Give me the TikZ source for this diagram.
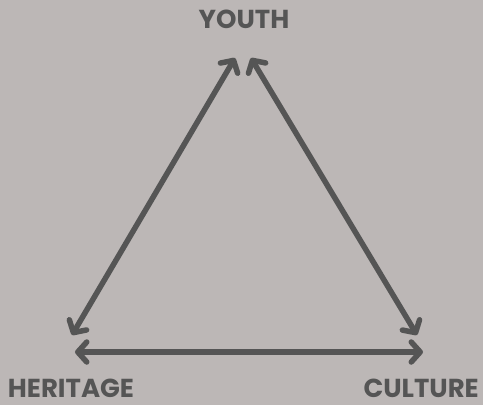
\documentclass[tikz,border=0pt]{standalone}
\usepackage{fontspec}
\setmainfont{Poppins}
\usetikzlibrary{arrows.meta}
\definecolor{bg}{HTML}{BCB7B6}
\definecolor{ink}{HTML}{555555}
\begin{document}
\begin{tikzpicture}[x=1pt,y=-1pt,
  lbl/.style={font=\bfseries\fontsize{26}{26}\selectfont, text=ink, inner sep=0pt},
  link/.style={draw=ink, line width=5.5pt, line cap=round,
    {Straight Barb[length=9pt,width=20pt,round]}-{Straight Barb[length=9pt,width=20pt,round]}}]
\fill[bg] (0,0) rectangle (483,405);
\useasboundingbox (0,0) rectangle (483,405);
\node[lbl] (youth) at (244,19) {YOUTH};
\node[lbl] (heritage) at (71,388) {HERITAGE};
\node[lbl, anchor=east] (culture) at (479,388) {CULTURE};
\coordinate (yl) at (235,58);
\coordinate (yr) at (251,58);
\coordinate (hl) at (72,335);
\coordinate (hb) at (75,352);
\coordinate (cr) at (417,335);
\coordinate (cb) at (423,352);
\draw[link] (yl) -- (hl);
\draw[link] (yr) -- (cr);
\draw[link] (hb) -- (cb);
\end{tikzpicture}
\end{document}
